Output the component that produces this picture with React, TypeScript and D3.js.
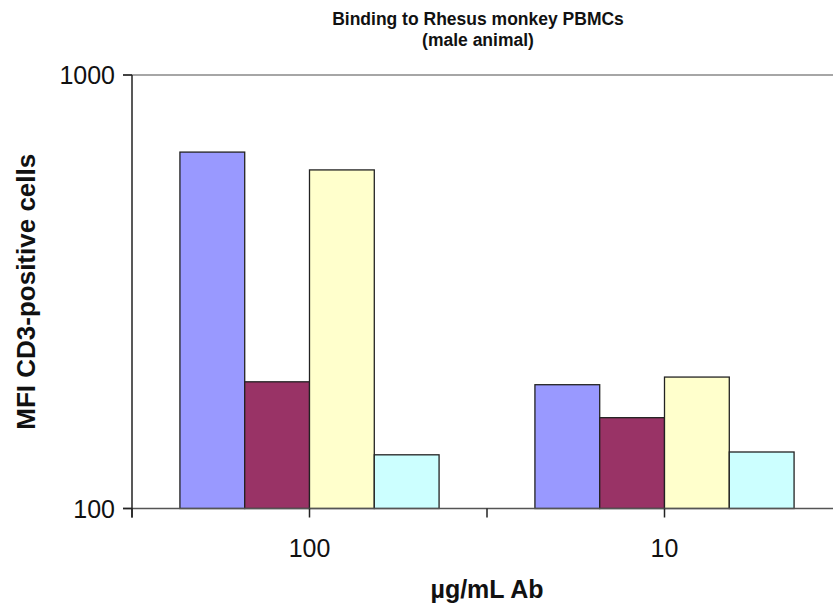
import React from "react";
import * as d3 from "d3";

const categories = ["100", "10"];
const seriesNames = ["S1", "S2", "S3", "S4"];
const seriesColors = ["#9999FF", "#993366", "#FFFFCC", "#CCFFFF"];
const valuesByCategory: number[][] = [
  [664, 196, 604, 133],
  [193, 162, 201, 135],
];
const yTicks = [100, 1000];

const W = 833;
const H = 610;
const left = 132;
const right = 842;
const top = 75;
const bottom = 508.5;
const font = "'Liberation Sans', Arial, sans-serif";

export default function App() {
  const x0 = d3.scaleBand<string>().domain(categories).range([left, right]).padding(0);
  const bw = x0.bandwidth();
  const groupW = bw * 0.73;
  const x1 = d3.scaleBand<string>().domain(seriesNames).range([0, groupW]).padding(0);
  const y = d3.scaleLog().domain([100, 1000]).range([bottom, top]);

  const xTicks = [left, ...categories.map((c) => (x0(c) as number) + bw / 2), ...categories.slice(1).map((c) => x0(c) as number)];

  return (
    <svg width={W} height={H} style={{ position: "absolute", left: 0, top: 0, background: "#fff" }}>
      <text x={478} y={25} textAnchor="middle" fontFamily={font} fontWeight="bold" fontSize={17.5} fill="#111">
        Binding to Rhesus monkey PBMCs
      </text>
      <text x={478} y={46} textAnchor="middle" fontFamily={font} fontWeight="bold" fontSize={17.5} fill="#111">
        (male animal)
      </text>

      {/* gridline at top */}
      <line x1={123} x2={W} y1={y(1000)} y2={y(1000)} stroke="#888" strokeWidth={1.5} />

      {categories.map((c, ci) => {
        const gx = (x0(c) as number) + (bw - groupW) / 2;
        return seriesNames.map((s, si) => {
          const v = valuesByCategory[ci][si];
          return (
            <rect
              key={c + s}
              x={gx + (x1(s) as number)}
              y={y(v)}
              width={x1.bandwidth()}
              height={y(100) - y(v)}
              fill={seriesColors[si]}
              stroke="#222"
              strokeWidth={1.3}
            />
          );
        });
      })}

      {/* baseline */}
      <line x1={123} x2={W} y1={bottom} y2={bottom} stroke="#555" strokeWidth={1.5} />
      {/* y axis */}
      <line x1={left} x2={left} y1={top} y2={bottom + 9} stroke="#222" strokeWidth={1.5} />
      {yTicks.map((t) => (
        <g key={t}>
          <line x1={123} x2={left} y1={y(t)} y2={y(t)} stroke="#222" strokeWidth={1.5} />
          <text x={115} y={y(t)} dy="0.36em" textAnchor="end" fontFamily={font} fontSize={25} fill="#111">
            {t}
          </text>
        </g>
      ))}
      {xTicks.map((tx, i) => (
        <line key={i} x1={tx} x2={tx} y1={bottom} y2={bottom + 9} stroke="#222" strokeWidth={1.5} />
      ))}
      {categories.map((c) => (
        <text key={c} x={(x0(c) as number) + bw / 2} y={557} textAnchor="middle" fontFamily={font} fontSize={25} fill="#111">
          {c}
        </text>
      ))}

      <text x={487} y={598} textAnchor="middle" fontFamily={font} fontWeight="bold" fontSize={25} fill="#111">
        µg/mL Ab
      </text>
      <text
        transform={`translate(35, ${(top + bottom) / 2}) rotate(-90)`}
        textAnchor="middle"
        fontFamily={font}
        fontWeight="bold"
        fontSize={26}
        fill="#111"
      >
        MFI CD3-positive cells
      </text>
    </svg>
  );
}
